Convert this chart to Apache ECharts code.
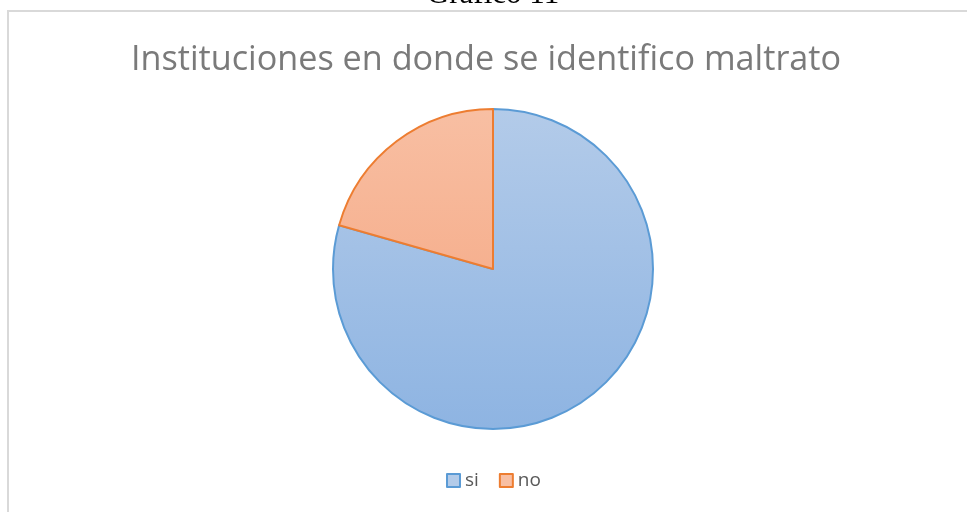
<!DOCTYPE html>
<html><head><meta charset="utf-8">
<script src="https://cdn.jsdelivr.net/npm/echarts@6/dist/echarts.min.js"></script>
<style>html,body{margin:0;padding:0;background:#fff}#c{width:967px;height:512px}</style>
</head><body><div id="c"></div>
<script>
const categories = ['si', 'no'];
const values = [27, 7];
const chartTitle = 'Instituciones en donde se identifico maltrato';
const caption = 'Gráfico 11';

const fills = [
  {top: '#b3cbe9', bottom: '#8eb4e2', border: '#5b9bd5'},
  {top: '#f8bfa3', bottom: '#f4a27c', border: '#ed7d31'}
];
const chart = echarts.init(document.getElementById('c'));
chart.setOption({
  animation: false,
  graphic: [
    {type: 'rect', shape: {x: 8, y: 11, width: 980, height: 520}, style: {fill: 'none', stroke: '#d9d9d9', lineWidth: 2}, silent: true},
    {type: 'text', x: 493, y: -21, style: {text: caption, font: '31px "Liberation Serif"', fill: '#000', align: 'center', verticalAlign: 'top'}, silent: true}
  ],
  title: {
    text: chartTitle, left: 481, top: 38, textAlign: 'center',
    textStyle: {fontFamily: 'Open Sans', fontWeight: 'normal', fontSize: 34.2, color: '#7a7a7a'}
  },
  legend: {
    data: categories, bottom: 17, left: 441, itemWidth: 13, itemHeight: 13, itemGap: 20,
    icon: 'rect',
    textStyle: {fontFamily: 'Open Sans', fontSize: 19, color: '#595959'}
  },
  series: [{
    type: 'pie', center: [493, 269], radius: 160, startAngle: 90, clockwise: true,
    label: {show: false}, labelLine: {show: false},
    data: categories.map((c, i) => ({
      name: c, value: values[i],
      itemStyle: {
        color: new echarts.graphic.LinearGradient(0, 109, 0, 429, [{offset: 0, color: fills[i].top}, {offset: 1, color: fills[i].bottom}], true),
        borderColor: fills[i].border, borderWidth: 2
      }
    }))
  }]
});
</script></body></html>
